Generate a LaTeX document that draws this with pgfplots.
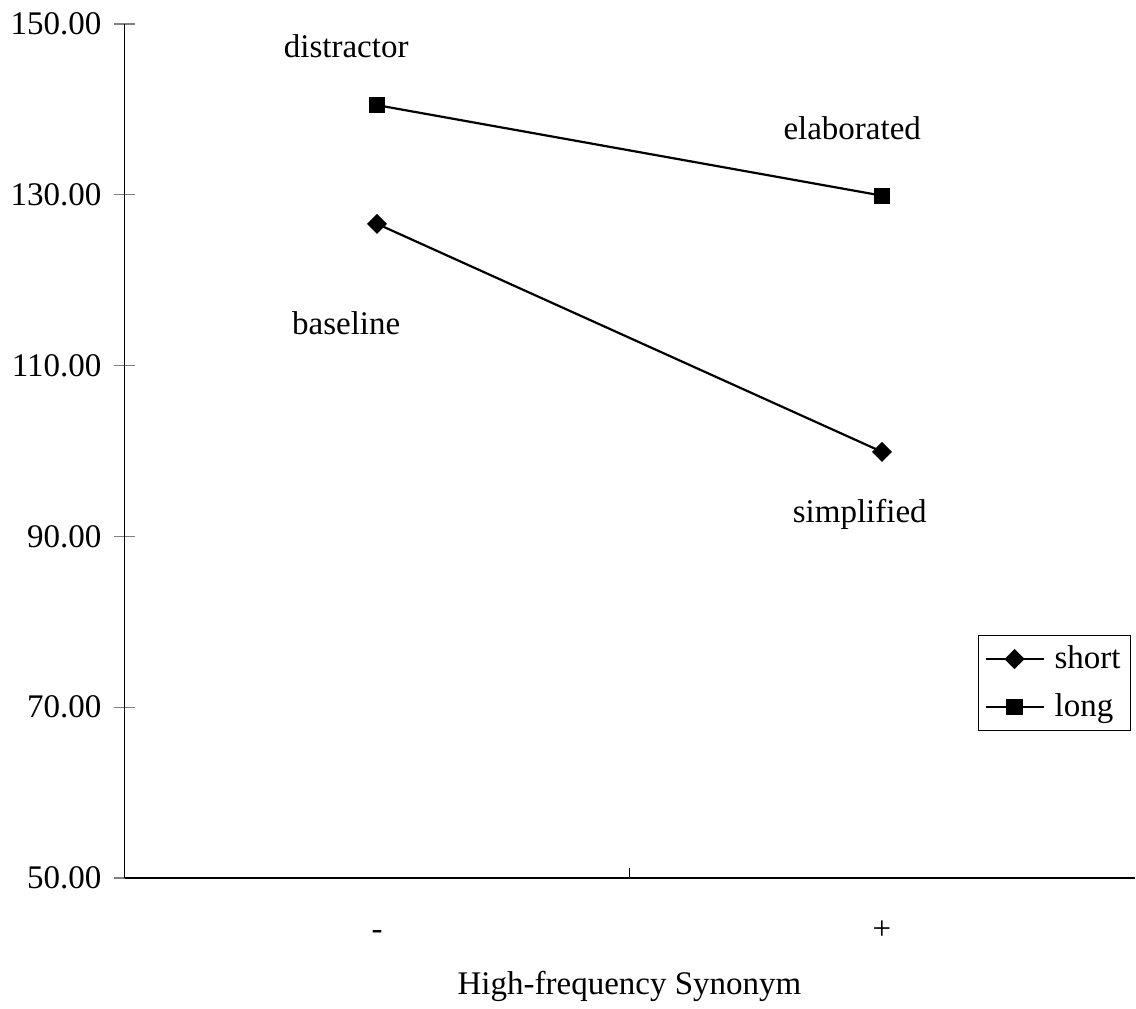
\documentclass[border=0pt]{standalone}
\usepackage{fontspec}
\setmainfont{Liberation Serif}
\usepackage{pgfplots}
\pgfplotsset{compat=1.18}
\usetikzlibrary{calc}

\newcommand{\lblfont}{\fontsize{16.5bp}{19bp}\selectfont}

\begin{document}
\begin{tikzpicture}
\begin{axis}[
    name=ax,
    scale only axis,
    width=505bp, height=427bp,
    xmin=-0.5, xmax=1.5,
    ymin=50, ymax=150,
    axis x line*=bottom,
    axis y line*=left,
    axis line style={line width=0.7bp},
    xtick={0,1},
    xticklabels={-,+},
    ytick={50,70,90,110,130,150},
    /pgf/number format/assume math mode=true,
    yticklabel style={/pgf/number format/fixed,/pgf/number format/fixed zerofill,/pgf/number format/precision=2, xshift=-3bp},
    x tick style={draw=none},
    y tick style={line width=0.6bp},
    tick align=center,
    major tick length=10bp,
    tick label style={font=\lblfont},
    xticklabel style={anchor=base, yshift=-25.5bp},
    xlabel={High-frequency Synonym},
    xlabel style={font=\lblfont, at={(axis description cs:0.5,0)}, anchor=center, yshift=-54bp},
    legend style={at={(rel axis cs:0.845,0.285)}, anchor=north west,
        draw=black, line width=0.5bp, font=\lblfont,
        inner xsep=3bp, inner ysep=3.5bp, row sep=7bp,
        /tikz/every odd column/.append style={column sep=3bp}},
    legend cell align=left,
    legend image code/.code={\draw[mark repeat=2,mark phase=2] plot coordinates {(0bp,0bp) (14.5bp,0bp) (29bp,0bp)};},
    clip=false,
]
\addplot[black, line width=1.1bp, mark=square*, mark size=3bp, mark options={solid,fill=black,rotate=45}]
    coordinates {(0,126.6) (1,99.9)};
\addlegendentry{short}
\addplot[black, line width=1.1bp, mark=square*, mark size=3.5bp, mark options={solid,fill=black}]
    coordinates {(0,140.5) (1,129.9)};
\addlegendentry{long}

\draw[line width=0.6bp] (axis cs:0.5,50) -- ([yshift=5bp]axis cs:0.5,50);

\node[font=\lblfont] at (axis cs:-0.061,147.4) {distractor};
\node[font=\lblfont] at (axis cs:0.941,137.8) {elaborated};
\node[font=\lblfont] at (axis cs:-0.061,115.0) {baseline};
\node[font=\lblfont] at (axis cs:0.956,92.6) {simplified};
\end{axis}
\pgfresetboundingbox
\path[use as bounding box] ($(ax.south west)+(-62.25bp,-65.5bp)$) rectangle ($(ax.north east)+(0.75bp,12bp)$);
\end{tikzpicture}
\end{document}
